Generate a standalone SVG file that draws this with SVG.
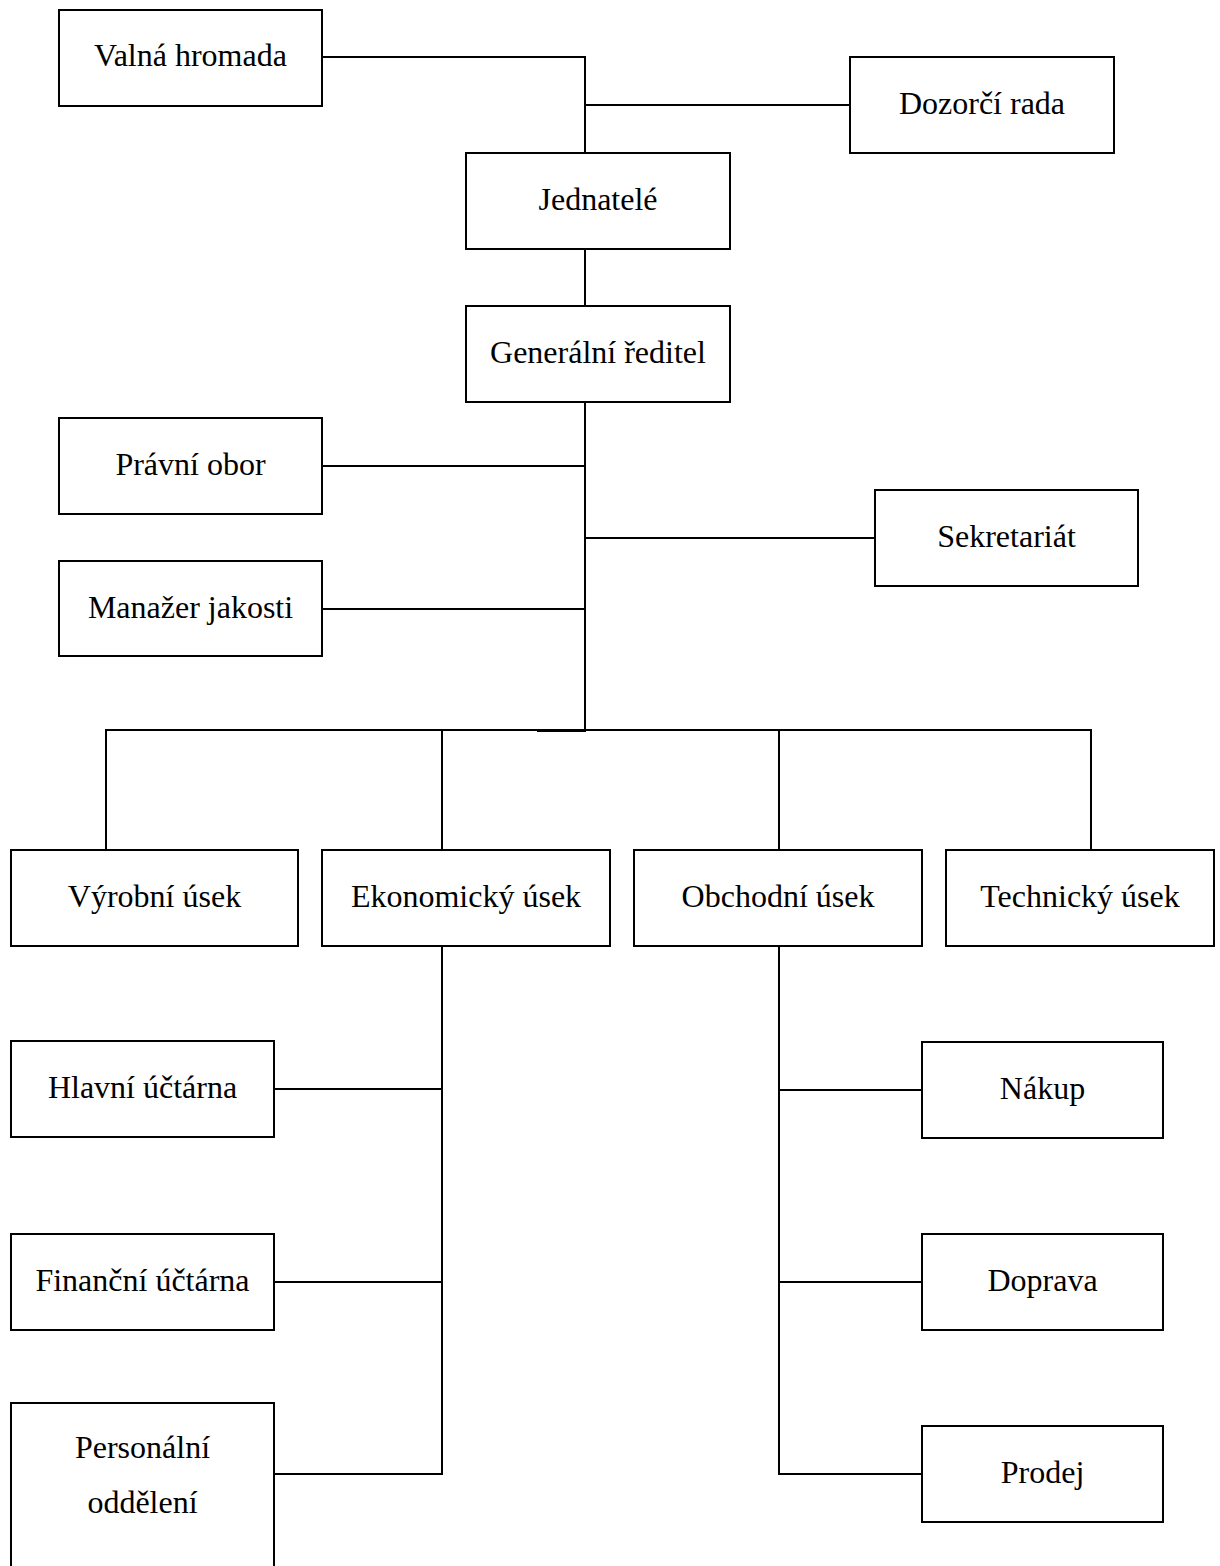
<svg xmlns="http://www.w3.org/2000/svg" width="1220" height="1566" viewBox="0 0 1220 1566">
  <style>
    .box { fill: #ffffff; stroke: #000000; stroke-width: 2; }
    .wire { fill: none; stroke: #000000; stroke-width: 2; stroke-linecap: square; }
    .label { font-family: "Liberation Serif", "Times New Roman", serif; font-size: 32px; fill: #000000; text-anchor: middle; }
  </style>
  <rect x="0" y="0" width="1220" height="1566" fill="#ffffff"/>

  <!-- connectors -->
  <g id="connectors">
    <!-- top: general meeting / supervisory board / executives -->
    <path class="wire" d="M322 57 H585 V153"/>
    <path class="wire" d="M585 105 H850"/>
    <path class="wire" d="M585 249 V306"/>
    <!-- director spine -->
    <path class="wire" d="M585 402 V730"/>
    <path class="wire" d="M322 466 H585"/>
    <path class="wire" d="M585 538 H875"/>
    <path class="wire" d="M322 609 H585"/>
    <!-- division bus -->
    <path class="wire" d="M106 850 V730 H1091 V850"/>
    <path class="wire" d="M538 731 H585"/>
    <path class="wire" d="M442 730 V850"/>
    <path class="wire" d="M779 730 V850"/>
    <!-- economic division branch -->
    <path class="wire" d="M442 946 V1474 H274"/>
    <path class="wire" d="M274 1089 H442"/>
    <path class="wire" d="M274 1282 H442"/>
    <!-- commercial division branch -->
    <path class="wire" d="M779 946 V1474 H922"/>
    <path class="wire" d="M779 1090 H922"/>
    <path class="wire" d="M779 1282 H922"/>
  </g>

  <g id="valna-hromada">
    <rect class="box" x="59" y="10" width="263" height="96"/>
    <text class="label" x="190.5" y="66">Valná hromada</text>
  </g>
  <g id="dozorci-rada">
    <rect class="box" x="850" y="57" width="264" height="96"/>
    <text class="label" x="982" y="114">Dozorčí rada</text>
  </g>
  <g id="jednatele">
    <rect class="box" x="466" y="153" width="264" height="96"/>
    <text class="label" x="598" y="210">Jednatelé</text>
  </g>
  <g id="generalni-reditel">
    <rect class="box" x="466" y="306" width="264" height="96"/>
    <text class="label" x="598" y="363">Generální ředitel</text>
  </g>
  <g id="pravni-obor">
    <rect class="box" x="59" y="418" width="263" height="96"/>
    <text class="label" x="190.5" y="475">Právní obor</text>
  </g>
  <g id="sekretariat">
    <rect class="box" x="875" y="490" width="263" height="96"/>
    <text class="label" x="1006.5" y="547">Sekretariát</text>
  </g>
  <g id="manazer-jakosti">
    <rect class="box" x="59" y="561" width="263" height="95"/>
    <text class="label" x="190.5" y="618">Manažer jakosti</text>
  </g>

  <g id="vyrobni-usek">
    <rect class="box" x="11" y="850" width="287" height="96"/>
    <text class="label" x="154.5" y="907">Výrobní úsek</text>
  </g>
  <g id="ekonomicky-usek">
    <rect class="box" x="322" y="850" width="288" height="96"/>
    <text class="label" x="466" y="907">Ekonomický úsek</text>
  </g>
  <g id="obchodni-usek">
    <rect class="box" x="634" y="850" width="288" height="96"/>
    <text class="label" x="778" y="907">Obchodní úsek</text>
  </g>
  <g id="technicky-usek">
    <rect class="box" x="946" y="850" width="268" height="96"/>
    <text class="label" x="1080" y="907">Technický úsek</text>
  </g>

  <g id="hlavni-uctarna">
    <rect class="box" x="11" y="1041" width="263" height="96"/>
    <text class="label" x="142.5" y="1098">Hlavní účtárna</text>
  </g>
  <g id="financni-uctarna">
    <rect class="box" x="11" y="1234" width="263" height="96"/>
    <text class="label" x="142.5" y="1291">Finanční účtárna</text>
  </g>
  <g id="personalni-oddeleni">
    <rect class="box" x="11" y="1403" width="263" height="180"/>
    <text class="label" x="142.5" y="1458">Personální</text>
    <text class="label" x="142.5" y="1513">oddělení</text>
  </g>

  <g id="nakup">
    <rect class="box" x="922" y="1042" width="241" height="96"/>
    <text class="label" x="1042.5" y="1099">Nákup</text>
  </g>
  <g id="doprava">
    <rect class="box" x="922" y="1234" width="241" height="96"/>
    <text class="label" x="1042.5" y="1291">Doprava</text>
  </g>
  <g id="prodej">
    <rect class="box" x="922" y="1426" width="241" height="96"/>
    <text class="label" x="1042.5" y="1483">Prodej</text>
  </g>
</svg>
